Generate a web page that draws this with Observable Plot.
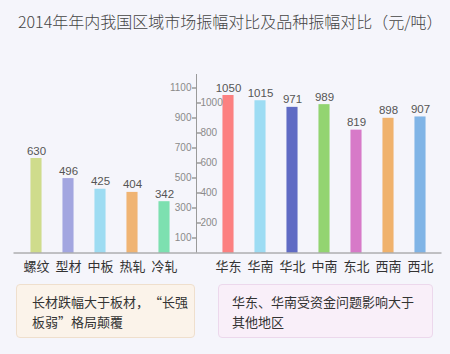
<!DOCTYPE html>
<html>
<head>
<meta charset="utf-8">
<script src="https://cdn.jsdelivr.net/npm/d3@7"></script>
<script src="https://cdn.jsdelivr.net/npm/@observablehq/plot@0.6"></script>
<style>
  html, body { margin: 0; padding: 0; }
  body {
    width: 450px; height: 354px; overflow: hidden; position: relative;
    background: #f5f5fb;
    font-family: "Noto Sans CJK SC", "Noto Sans", sans-serif;
    text-spacing-trim: space-all;
    font-feature-settings: "fwid" 0;
  }
  #title {
    position: absolute; left: 18px; top: 0; height: 43px; line-height: 43px;
    font-size: 16px; color: #444; font-weight: 300; white-space: nowrap;
  }
  #chart { position: absolute; left: 0; top: 40px; }
  .note {
    position: absolute; top: 284px; height: 54px; box-sizing: border-box;
    border-radius: 4px; font-size: 13px; line-height: 20px; color: #333;
    padding-top: 7px; white-space: nowrap;
  }
  #note1 { left: 16px; width: 179px; background: #fbf3ea; border: 1px solid #efdfcd; padding-left: 15px; }
  #note2 { left: 218px; width: 215px; background: #f9eff9; border: 1px solid #ecd8ec; padding-left: 13px; }
</style>
</head>
<body>
<div id="title">2014年年内我国区域市场振幅对比及品种振幅对比（元/吨）</div>
<div id="chart"></div>
<div class="note" id="note1">长材跌幅大于板材，“长强<br>板弱”格局颠覆</div>
<div class="note" id="note2">华东、华南受资金问题影响大于<br>其他地区</div>
<script>
// ---- data ----
const products = ["螺纹", "型材", "中板", "热轧", "冷轧"];
const productValues = [630, 496, 425, 404, 342];
const regions = ["华东", "华南", "华北", "中南", "东北", "西南", "西北"];
const regionValues = [1050, 1015, 971, 989, 819, 898, 907];
const oddTicks = [100, 300, 500, 700, 900, 1100];
const evenTicks = [200, 400, 600, 800, 1000];
const productColors = ["#cfdc8c", "#a3a6e0", "#9edcf2", "#f0b473", "#7de0b0"];
const regionColors = ["#fc8080", "#9ddcf3", "#606bc4", "#93d471", "#d77ac8", "#f0b26c", "#80b4e6"];

// ---- build table ----
const AXIS = "__axis__";
const rows = [
  ...products.map((c, i) => ({cat: c, value: productValues[i]})),
  ...regions.map((c, i) => ({cat: c, value: regionValues[i]}))
];
const xDomain = [...products, AXIS, ...regions];
const tickLeft = {draw(ctx) { ctx.moveTo(-4.5, 0); ctx.lineTo(0, 0); }};
const tickRight = {draw(ctx) { ctx.moveTo(0, 0); ctx.lineTo(4.5, 0); }};
const numFont = "'Liberation Sans', Arial, sans-serif";

const bw = 428 / 13;
const inset = (bw - 12) / 2;

const chart = Plot.plot({
  width: 450,
  height: 240,
  marginLeft: 13.5,
  marginRight: 8.5,
  marginTop: 34,
  marginBottom: 27.5,
  style: {background: "transparent", overflow: "visible"},
  x: {type: "band", domain: xDomain, padding: 0, axis: null},
  y: {domain: [0, 1190], axis: null},
  color: {type: "ordinal", domain: [...products, ...regions], range: [...productColors, ...regionColors]},
  marks: [
    Plot.barY(rows, {x: "cat", y: "value", fill: "cat", insetLeft: inset, insetRight: inset}),
    Plot.ruleY([0], {stroke: "#8a8a8a"}),
    Plot.ruleX([AXIS], {y1: 0, y2: 1190, stroke: "#9a9a9a"}),
    Plot.dot(oddTicks, {x: () => AXIS, y: d => d, symbol: tickLeft, fill: "none", stroke: "#9a9a9a"}),
    Plot.dot(evenTicks, {x: () => AXIS, y: d => d, symbol: tickRight, fill: "none", stroke: "#9a9a9a"}),
    Plot.text(oddTicks, {x: () => AXIS, y: d => d, text: d => String(d), textAnchor: "end", dx: -5, fontSize: 10, fill: "#8a8a8a", fontFamily: numFont}),
    Plot.text(evenTicks, {x: () => AXIS, y: d => d, text: d => String(d), textAnchor: "start", dx: 4, fontSize: 10, fill: "#8a8a8a", fontFamily: numFont}),
    Plot.text(rows, {x: "cat", y: "value", text: d => String(d.value), lineAnchor: "bottom", dy: -4, fontSize: 11.5, fill: "#555", fontFamily: numFont}),
    Plot.text(rows, {x: "cat", y: () => 0, text: "cat", lineAnchor: "middle", dy: 14, fontSize: 13, fill: "#333", fontFamily: "'Noto Sans CJK SC', sans-serif"})
  ]
});
document.getElementById("chart").appendChild(chart);
</script>
</body>
</html>
